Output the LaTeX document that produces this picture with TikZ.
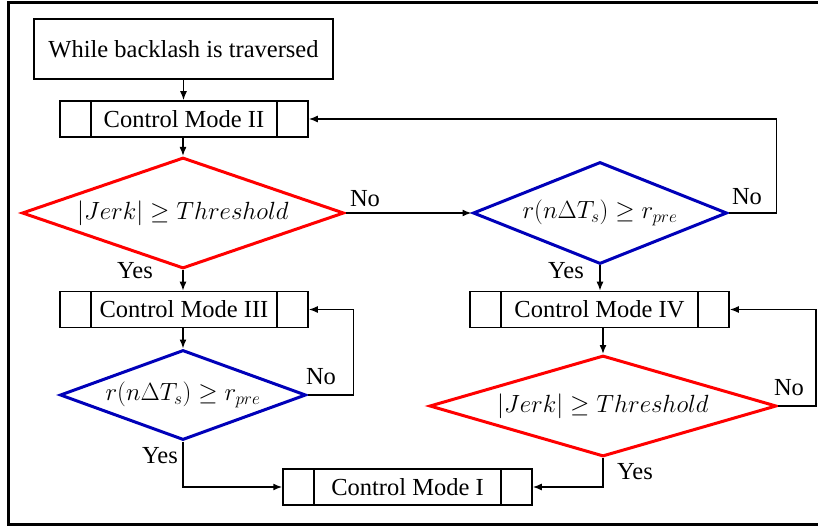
\documentclass[tikz,border=0pt]{standalone}
\usepackage{fontspec}
\setmainfont{Liberation Serif}
\usetikzlibrary{shapes.geometric,arrows.meta}
\definecolor{dblue}{RGB}{0,0,185}
\begin{document}
\begin{tikzpicture}[x=1pt,y=-1pt,
  every node/.style={font=\fontsize{24.5}{28}\selectfont},
  box/.style={draw,line width=1.5pt,inner sep=0pt,minimum height=36pt},
  predef/.style={box,minimum width=#1, path picture={
    \draw[line width=1.5pt] ([xshift=31pt]path picture bounding box.north west) -- ([xshift=31pt]path picture bounding box.south west);
    \draw[line width=1.5pt] ([xshift=-31pt]path picture bounding box.north east) -- ([xshift=-31pt]path picture bounding box.south east);}},
  dec/.style={diamond,draw,line width=3pt,inner sep=0pt,aspect=3},
  redd/.style={dec,draw=red},
  blued/.style={dec,draw=dblue},
  conn/.style={line width=1.5pt},
  arr/.style={conn,-{Latex[length=9pt,width=7pt]}},
  lbl/.style={inner sep=0pt}
]
\useasboundingbox (0,0) rectangle (818,526);
\draw[line width=3pt] (818,3) -- (8,3) -- (8,524) -- (818,524);

\node[box,minimum width=299pt,minimum height=60pt] (start) at (183.5,49) {While backlash is traversed};
\node[predef=248pt] (m2) at (184,119) {Control Mode II};
\node[redd,minimum width=322pt,minimum height=111pt] (d1) at (183,213) {$|Jerk|\geq Threshold$};
\node[blued,minimum width=254pt,minimum height=102pt] (d2) at (600,213) {$r(n\Delta T_s)\geq r_{pre}$};
\node[predef=248pt] (m3) at (184,309.5) {Control Mode III};
\node[blued,minimum width=246pt,minimum height=90pt] (d3) at (183,395) {$r(n\Delta T_s)\geq r_{pre}$};
\node[predef=249pt] (m1) at (407.5,487) {Control Mode I};
\node[predef=259pt] (m4) at (599.5,309.5) {Control Mode IV};
\node[redd,minimum width=347pt,minimum height=101pt] (d4) at (603,406) {$|Jerk|\geq Threshold$};

\draw[arr] (start.south) -- (start.south |- m2.north);
\draw[arr] (m2.south -| d1.north) -- (d1.north);
\draw[arr] (d1.east) -- (d2.west);
\draw[arr] (d2.east) -- ++(48,0) |- (m2.east);
\draw[arr] (d1.south) -- (d1.south |- m3.north);
\draw[arr] (m3.south -| d3.north) -- (d3.north);
\draw[arr] (d3.east) -- ++(46,0) |- (m3.east);
\draw[arr] (d3.south) |- (m1.west);
\draw[arr] (d2.south) -- (d2.south |- m4.north);
\draw[arr] (m4.south -| d4.north) -- (d4.north);
\draw[arr] (d4.east) -- ++(38,0) |- (m4.east);
\draw[arr] (d4.south) |- (m1.east);

\node[lbl] (no1) at (365,199) {No};
\node[lbl] (no2) at (747,197) {No};
\node[lbl] (no3) at (321,377) {No};
\node[lbl] (no4) at (789,388) {No};
\node[lbl] (yes1) at (135,271) {Yes};
\node[lbl] (yes2) at (566,271) {Yes};
\node[lbl] (yes3) at (160,456) {Yes};
\node[lbl] (yes4) at (635,472) {Yes};
\end{tikzpicture}
\end{document}
